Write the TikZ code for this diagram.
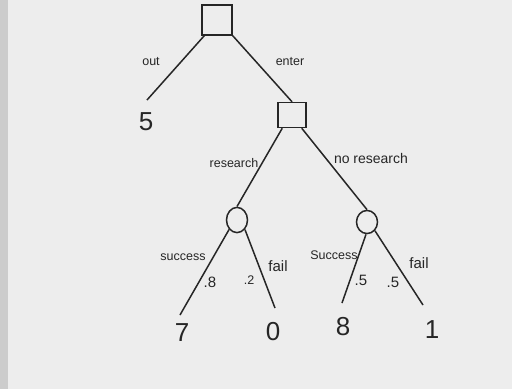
\documentclass[tikz,border=0pt]{standalone}
\usepackage{fontspec}
\setmainfont{Liberation Sans}
\begin{document}
\begin{tikzpicture}[x=1pt,y=-1pt,
  ink/.style={draw=black!85,line width=1.5pt},
  decbox/.style={ink,rectangle,inner sep=0pt},
  lbl/.style={font=\fontsize{12.5}{14}\selectfont,text=black!85,inner sep=0pt},
  big/.style={lbl,font=\fontsize{15}{16}\selectfont},
  pay/.style={font=\fontsize{26}{28}\selectfont,text=black!85,inner sep=0pt}]
\fill[gray!14] (0,0) rectangle (512,389);
\fill[gray!40] (0,0) rectangle (8,389);
\useasboundingbox (0,0) rectangle (512,389);
% decision nodes
\node[decbox,minimum width=30pt,minimum height=30pt] (d1) at (217,20) {};
\node[decbox,minimum width=28pt,minimum height=25pt] (d2) at (292,115) {};
% chance nodes
\node[ink,circle,inner sep=0pt,minimum size=21pt,yscale=1.2] (c1) at (237,220) {};
\node[ink,circle,inner sep=0pt,minimum size=21pt,yscale=1.1] (c2) at (367,222) {};
% payoffs
\node[pay] (p5) at (146,122) {5};
\node[pay] (p7) at (182,333) {7};
\node[pay] (p0) at (273,332) {0};
\node[pay] (p8) at (343,327) {8};
\node[pay] (p1) at (432,330) {1};
% end coordinates
\coordinate (e5) at (147,100);
\coordinate (e7) at (180,315);
\coordinate (e0) at (275,308);
\coordinate (e8) at (342,303);
\coordinate (e1) at (423,305);
% connectors
\draw[ink] (d1.south west) ++(3,0) coordinate (a1) -- (e5);
\draw[ink] (d1.south east) -- (d2.north);
\draw[ink] (d2.south west) ++(5,0) coordinate (a2) -- (c1.north);
\draw[ink] (d2.south east) ++(-5,0) coordinate (a3) -- (c2.north);
\draw[ink] (c1.south west) -- (e7);
\draw[ink] (c1.south east) -- (e0);
\draw[ink] (c2.south) ++(-1,0) coordinate (a4) -- (e8);
\draw[ink] (c2.south east) -- (e1);
% labels
\node[lbl] (lout) at (151,62) {out};
\node[lbl] (lent) at (290,62) {enter};
\node[lbl] (lres) at (234,163) {research};
\node[lbl,font=\fontsize{14}{15}\selectfont] (lnor) at (371,158) {no research};
\node[lbl] (ls1) at (183,257) {success};
\node[big] (q1) at (210,282) {.8};
\node[lbl] (q2) at (249,280) {.2};
\node[big] (lf1) at (278,266) {fail};
\node[lbl] (ls2) at (334,255) {Success};
\node[big] (q3) at (361,280) {.5};
\node[big] (q4) at (393,282) {.5};
\node[big] (lf2) at (419,263) {fail};
\end{tikzpicture}
\end{document}
